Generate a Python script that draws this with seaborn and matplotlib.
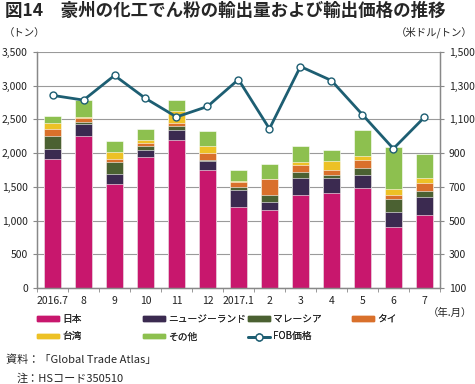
import numpy as np
import matplotlib
matplotlib.use("Agg")
import matplotlib.pyplot as plt
import seaborn as sns
from matplotlib.patches import Patch
from matplotlib.lines import Line2D

# data (tons / USD per ton)
months = ["2016.7", "8", "9", "10", "11", "12", "2017.1", "2", "3", "4", "5", "6", "7"]
japan = [1915, 2255, 1535, 1940, 2200, 1750, 1205, 1155, 1375, 1415, 1485, 900, 1080]
nz = [150, 170, 155, 110, 140, 125, 245, 120, 250, 215, 190, 220, 265]
malaysia = [185, 35, 170, 50, 65, 15, 40, 100, 100, 50, 110, 200, 90]
thai = [100, 65, 45, 55, 35, 105, 85, 240, 105, 75, 105, 60, 115]
taiwan = [90, 15, 110, 40, 190, 115, 15, 5, 30, 130, 70, 85, 75]
other = [110, 250, 165, 165, 155, 210, 165, 225, 240, 155, 380, 630, 365]
fob = [1242, 1214, 1360, 1224, 1114, 1176, 1336, 1044, 1413, 1330, 1128, 926, 1112]

series = ["日本", "ニュージーランド", "マレーシア", "タイ", "台湾", "その他"]
colors = ["#C8176D", "#3B2A50", "#4B6132", "#D9702B", "#EDC125", "#8DC04F"]
line_color = "#1D5E72"

sns.set_style("white")
plt.rcParams["font.family"] = ["Noto Sans CJK JP", "DejaVu Sans"]

fig = plt.figure(figsize=(4.75, 3.84), dpi=100)
ax = fig.add_axes([0.078, 0.25, 0.848, 0.615])

stack = np.cumsum(np.array([japan, nz, malaysia, thai, taiwan, other]), axis=0)
# draw cumulative totals from the top down so each segment shows
for i in range(len(series) - 1, -1, -1):
    sns.barplot(x=months, y=stack[i], order=months, color=colors[i], width=0.55,
                errorbar=None, edgecolor="white", linewidth=0.4, saturation=1, ax=ax)

ax.set_xlim(-0.5, 12.5)
ax.set_ylim(0, 3500)
ax.set_yticks(np.arange(0, 3501, 500))
ax.set_yticklabels([f"{v:,}" for v in range(0, 3501, 500)])
ax.yaxis.grid(True, color="#9a9a9a", linewidth=0.8)
ax.set_axisbelow(True)
ax.set_xlabel("")
ax.set_ylabel("")
ax.set_xticks(np.arange(13))
ax.set_xticklabels(months)
ax.set_xticks(np.arange(-0.5, 13, 1), minor=True)
ax.tick_params(axis="x", which="major", length=0, labelsize=7.5, pad=6, colors="#222222")
ax.tick_params(axis="x", which="minor", length=3, color="#888888", direction="out", bottom=True)
ax.tick_params(axis="y", length=3, color="#888888", labelsize=7.5, colors="#222222", left=True)
for s in ["left", "bottom", "right"]:
    ax.spines[s].set_color("#888888")
    ax.spines[s].set_linewidth(1)
ax.spines["top"].set_visible(False)

ax2 = ax.twinx()
sns.lineplot(x=np.arange(13), y=fob, color=line_color, linewidth=2, marker="o",
             markersize=5, markerfacecolor="white", markeredgecolor=line_color,
             markeredgewidth=1, ax=ax2)
ax2.set_ylim(100, 1500)
ax2.set_yticks(np.arange(100, 1501, 200))
ax2.set_yticklabels([f"{v:,}" for v in range(100, 1501, 200)])
ax2.set_ylabel("")
ax2.tick_params(axis="y", length=3, color="#888888", labelsize=7.5, colors="#222222", right=True)
for s in ["left", "bottom", "right"]:
    ax2.spines[s].set_color("#888888")
ax2.spines["top"].set_visible(False)
ax2.set_xlim(-0.5, 12.5)

# legend: one small legend per column so the columns sit where the reference has them
h = [Patch(color=c) for c in colors]
fob_h = Line2D([], [], color=line_color, linewidth=2, marker="o", markersize=5,
               markerfacecolor="white", markeredgecolor=line_color)
columns = [([h[0], h[4]], [series[0], series[4]], 0.078),
           ([h[1], h[5]], [series[1], series[5]], 0.301),
           ([h[2], fob_h], [series[2], "FOB価格"], 0.522),
           ([h[3]], [series[3]], 0.741)]
for hs, ls, x0 in columns:
    leg = fig.legend(hs, ls, loc="upper left", bbox_to_anchor=(x0, 0.182),
                     frameon=False, fontsize=7, handlelength=2.3, handleheight=0.3,
                     handletextpad=0.3, labelspacing=0.75, borderpad=0, borderaxespad=0)
    fig.add_artist(leg)

fig.text(0.01, 0.995, "図14　豪州の化工でん粉の輸出量および輸出価格の推移",
         fontsize=12.6, fontweight="bold", va="top", ha="left")
fig.text(0.008, 0.915, "（トン）", fontsize=7.5, va="center", ha="left")
fig.text(0.995, 0.915, "（米ドル/トン）", fontsize=7.5, va="center", ha="right")
fig.text(0.995, 0.185, "（年.月）", fontsize=7.5, va="center", ha="right")
fig.text(0.012, 0.062, "資料：「Global Trade Atlas」", fontsize=8, va="center", ha="left")
fig.text(0.035, 0.015, "注：HSコード350510", fontsize=8, va="center", ha="left")

fig.savefig("out.png", dpi=100)
